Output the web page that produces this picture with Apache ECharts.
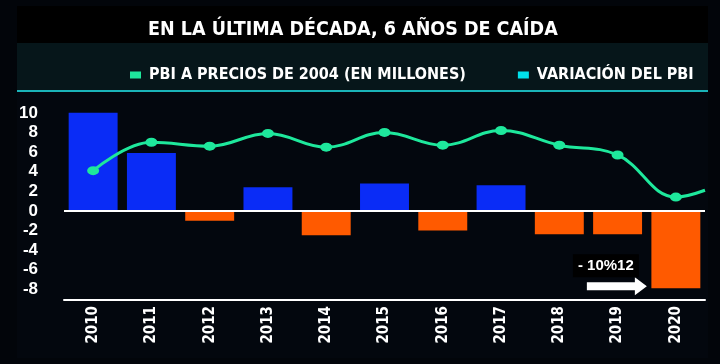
<!DOCTYPE html>
<html><head><meta charset="utf-8">
<script src="https://cdn.jsdelivr.net/npm/echarts@6/dist/echarts.min.js"></script>
<style>html,body{margin:0;padding:0;background:#02050a;}#c{width:720px;height:364px;}</style>
</head><body><div id="c"></div>
<script>
const years = ['2010','2011','2012','2013','2014','2015','2016','2017','2018','2019','2020'];
const variacion = [10.0, 5.9, -1.0, 2.4, -2.5, 2.8, -2.0, 2.6, -2.4, -2.4, -7.9];
const pbi = [4.1, 7.0, 6.6, 7.9, 6.5, 8.0, 6.7, 8.2, 6.7, 5.7, 1.4];
const pbiTail = 2.1;           // line keeps going past 2020 to the plot edge
const yTicks = [-8, -6, -4, -2, 0, 2, 4, 6, 8, 10];
const annotationText = '- 10%12';
const titleText = 'EN LA ÚLTIMA DÉCADA, 6 AÑOS DE CAÍDA';
const legendLine = 'PBI A PRECIOS DE 2004 (EN MILLONES)';
const legendBar = 'VARIACIÓN DEL PBI';

const COND = "'DejaVu Sans Condensed', 'Liberation Sans', sans-serif";
const chart = echarts.init(document.getElementById('c'));
const lineData = pbi.map((v, i) => [i, v]);
lineData.push({value: [years.length - 0.5, pbiTail], symbol: 'none'});

const option = {
  backgroundColor: '#02050a',
  animation: false,
  title: {
    text: titleText, left: 143, top: 15,
    textStyle: {color: '#fff', fontFamily: COND, fontWeight: 'bold', fontSize: 19.5}
  },
  legend: {
    top: 62, left: 125, itemGap: 52, itemWidth: 11, itemHeight: 7, icon: 'rect',
    data: [legendLine, legendBar],
    textStyle: {color: '#fff', fontFamily: COND, fontWeight: 'bold', fontSize: 16, padding: [0, 0, 0, 3]}
  },
  graphic: [
    {type: 'rect', z: -10, shape: {x: 17, y: 6, width: 691, height: 352}, style: {fill: '#03070e'}},
    {type: 'rect', z: -9, shape: {x: 17, y: 6, width: 691, height: 37}, style: {fill: '#000'}},
    {type: 'rect', z: -9, shape: {x: 17, y: 43, width: 691, height: 47}, style: {fill: '#06161a'}},
    {type: 'rect', z: -8, shape: {x: 17, y: 90, width: 691, height: 2}, style: {fill: '#1ab3b8'}}
  ],
  grid: {left: 64, right: 15, top: 105, bottom: 64},
  xAxis: [
    {type: 'category', data: years, position: 'bottom',
     axisLine: {show: true, onZero: false, lineStyle: {color: '#fff', width: 2}},
     axisTick: {show: false},
     axisLabel: {rotate: 90, color: '#fff', fontFamily: COND, fontWeight: 'bold', fontSize: 15, margin: 6}},
    {type: 'value', min: -0.5, max: years.length - 0.5, show: false}
  ],
  yAxis: {
    type: 'value', min: -9.1, max: 10.8,
    splitLine: {show: false}, axisLine: {show: false}, axisTick: {show: false},
    axisLabel: {customValues: yTicks, color: '#fff', fontFamily: "'Liberation Sans', sans-serif", fontWeight: 'bold', fontSize: 17, margin: 26}
  },
  series: [
    {name: legendBar, type: 'bar', xAxisIndex: 0, barWidth: '84%',
     itemStyle: {color: '#00e0ea'},
     data: variacion.map(v => ({value: v, itemStyle: {color: v >= 0 ? '#0a2cf6' : '#ff5a00'}})),
     markLine: {silent: true, symbol: 'none', label: {show: false},
       lineStyle: {color: '#fff', width: 2, type: 'solid'}, data: [{yAxis: 0}]}},
    {name: legendLine, type: 'line', xAxisIndex: 1, smooth: 0.4, z: 5,
     symbol: 'circle', symbolSize: [12, 9],
     lineStyle: {color: '#1ee89c', width: 3},
     itemStyle: {color: '#1ee89c'},
     data: lineData}
  ]
};
chart.setOption(option);

// annotation next to the 2020 bar
const last = years.length - 1;
const p = chart.convertToPixel({xAxisIndex: 0, yAxisIndex: 0}, [years[last], variacion[last]]);
const tipX = p[0] - 29, tipY = p[1] - 2;
chart.setOption({graphic: option.graphic.concat([
  {type: 'polygon', z: 20, shape: {points: [
     [tipX - 60, tipY - 4], [tipX - 12, tipY - 4], [tipX - 12, tipY - 9], [tipX, tipY],
     [tipX - 12, tipY + 9], [tipX - 12, tipY + 4], [tipX - 60, tipY + 4]]}, style: {fill: '#fff'}},
  {type: 'rect', z: 20, shape: {x: tipX - 74, y: tipY - 32, width: 66, height: 23}, style: {fill: '#000'}},
  {type: 'text', z: 21, x: tipX - 41, y: tipY - 20,
   style: {text: annotationText, fill: '#fff', font: "bold 15px 'Liberation Sans', sans-serif", align: 'center', verticalAlign: 'middle'}}
])});
</script></body></html>
